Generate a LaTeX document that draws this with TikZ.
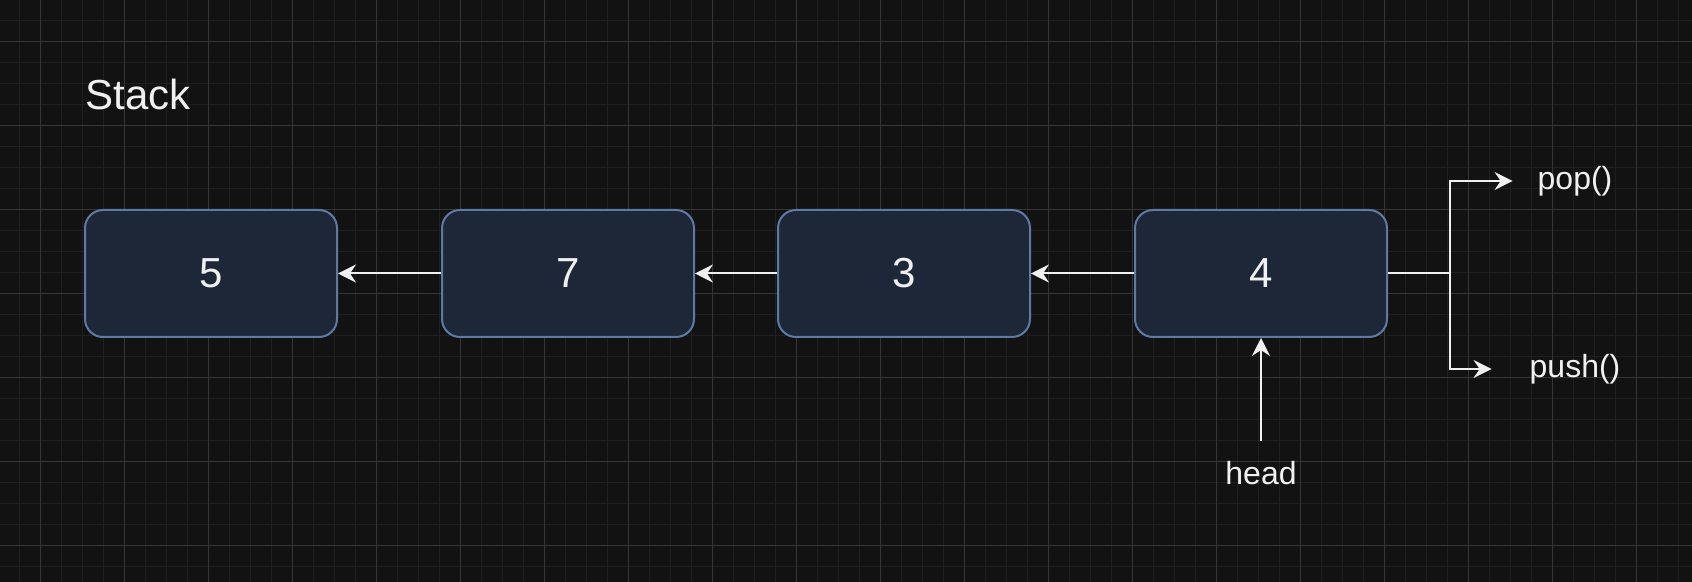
\documentclass[tikz,border=0pt]{standalone}
\usepackage{fontspec}
\setmainfont{Liberation Sans}
\usetikzlibrary{arrows.meta, positioning}
\definecolor{bgdark}{RGB}{18,18,18}
\definecolor{gridminor}{RGB}{31,31,31}
\definecolor{gridmajor}{RGB}{54,54,54}
\definecolor{cellfill}{RGB}{30,39,56}
\definecolor{cellline}{RGB}{94,122,163}
\definecolor{textwhite}{RGB}{240,240,240}

\begin{document}
\begin{tikzpicture}[x=0.5pt, y=-0.5pt,
  cell/.style={draw=cellline, fill=cellfill, line width=1pt, rounded corners=9pt,
    minimum width=126pt, minimum height=63.5pt, text=textwhite,
    font=\fontsize{21}{25}\selectfont},
  link/.style={-{Stealth[length=9pt, width=9pt, inset=3pt]}, draw=textwhite, line width=1pt},
  lbl/.style={text=textwhite, inner sep=0pt, font=\fontsize{16}{19}\selectfont}]
  \useasboundingbox (0,0) rectangle (1692,582);
  \fill[bgdark] (0,0) rectangle (1692,582);
  % Grid
  \foreach \gx in {0,...,79}
    \draw[gridminor, line width=0.5pt] ({19.7+21*\gx},0) -- ++(0,582);
  \foreach \gy in {0,...,26}
    \draw[gridminor, line width=0.5pt] (0,{20.7+21*\gy}) -- ++(1692,0);
  \foreach \gx in {0,...,19}
    \draw[gridmajor, line width=0.5pt] ({40.7+84*\gx},0) -- ++(0,582);
  \foreach \gy in {0,...,6}
    \draw[gridmajor, line width=0.5pt] (0,{41.7+84*\gy}) -- ++(1692,0);
  % Title
  \node[text=textwhite, inner sep=0pt, anchor=base west, font=\fontsize{21}{25}\selectfont] (title) at (85,110) {Stack};
  % Stack cells
  \node[cell] (c5) at (211,273.5) {5};
  \node[cell] (c7) at (568,273.5) {7};
  \node[cell] (c3) at (904,273.5) {3};
  \node[cell] (c4) at (1261,273.5) {4};
  \draw[link] (c7.west) -- (c5.east);
  \draw[link] (c3.west) -- (c7.east);
  \draw[link] (c4.west) -- (c3.east);
  % Operations
  \node[lbl, minimum width=62pt] (pop) at (1575,181) {pop()};
  \node[lbl, minimum width=83pt] (push) at (1575,369) {push()};
  \coordinate (fork) at (1450,273.5);
  \draw[textwhite, line width=1pt] (c4.east) -- (fork);
  \draw[link] (fork) |- (pop.west);
  \draw[link] (fork) |- (push.west);
  % Head pointer
  \node[lbl, inner ysep=10pt] (head) at (1261,473) {head};
  \draw[link] (head.north) -- (c4.south);
\end{tikzpicture}
\end{document}
